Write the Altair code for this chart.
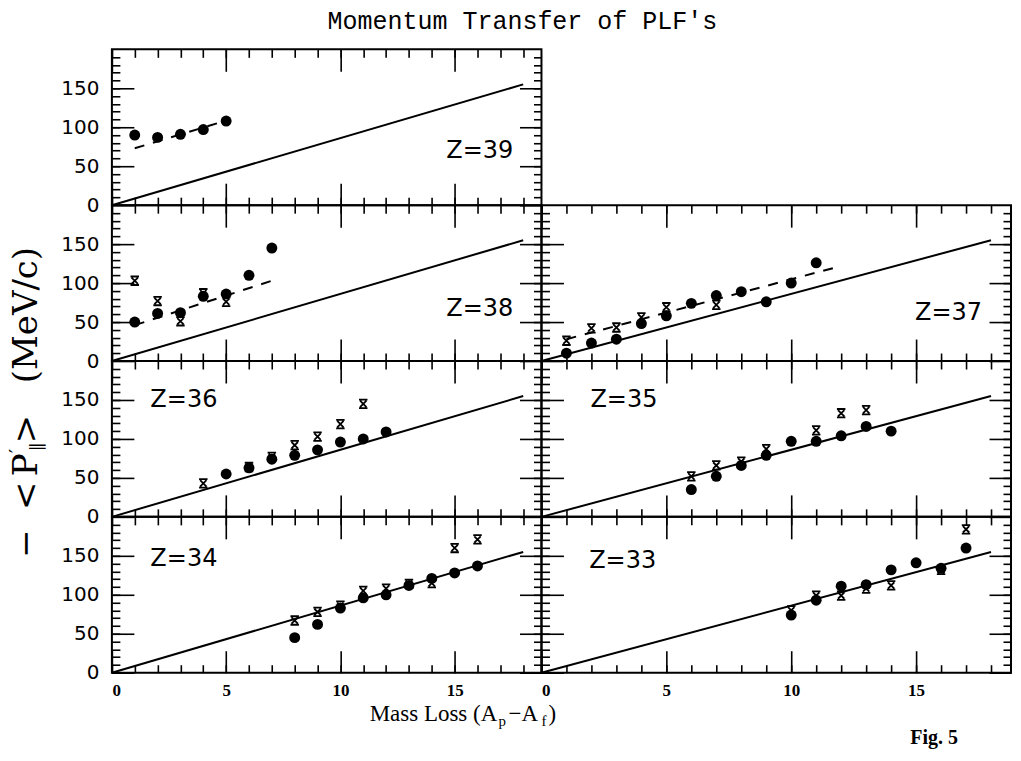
import altair as alt
import pandas as pd

# ---------------- data ----------------
line_x = [0, 18]
line_y = [0, 155]

z39_dot_x = [1, 2, 3, 4, 5]
z39_dot_y = [90, 87, 91, 97, 108]
z39_cross_x, z39_cross_y = [], []
z39_dash_x = [1, 4.6]
z39_dash_y = [73, 105]

z38_dot_x = [1, 2, 3, 4, 5, 6, 7]
z38_dot_y = [50, 61, 62, 83, 86, 110, 145]
z38_cross_x = [1, 2, 3, 4, 5]
z38_cross_y = [103, 77, 51, 87, 76]
z38_dash_x = [1, 7]
z38_dash_y = [46, 103]

z37_dot_x = [1, 2, 3, 4, 5, 6, 7, 8, 9, 10, 11]
z37_dot_y = [10, 23, 28, 48, 58, 74, 84, 89, 76, 100, 126]
z37_cross_x = [1, 2, 3, 4, 5, 7]
z37_cross_y = [26, 42, 43, 56, 69, 72]
z37_dash_x = [1, 12]
z37_dash_y = [28, 122]

z36_dot_x = [5, 6, 7, 8, 9, 10, 11, 12]
z36_dot_y = [55, 63, 74, 79, 86, 96, 100, 109]
z36_cross_x = [4, 6, 7, 8, 9, 10, 11]
z36_cross_y = [43, 64, 77, 92, 103, 119, 145]

z35_dot_x = [6, 7, 8, 9, 10, 11, 12, 13, 14]
z35_dot_y = [35, 52, 66, 79, 97, 97, 104, 116, 110]
z35_cross_x = [6, 7, 8, 9, 11, 12, 13]
z35_cross_y = [52, 66, 71, 87, 111, 133, 137]

z34_dot_x = [8, 9, 10, 11, 12, 13, 14, 15, 16]
z34_dot_y = [45, 62, 83, 96, 100, 112, 121, 128, 137]
z34_cross_x = [8, 9, 10, 11, 12, 13, 14, 15, 16]
z34_cross_y = [67, 78, 86, 105, 108, 114, 115, 160, 171]

z33_dot_x = [10, 11, 12, 13, 14, 15, 16, 17]
z33_dot_y = [74, 93, 111, 113, 132, 141, 134, 160]
z33_cross_x = [10, 11, 12, 13, 14, 16, 17]
z33_cross_y = [80, 99, 99, 108, 112, 132, 184]

panel_labels = ["Z=39", "Z=38", "Z=37", "Z=36", "Z=35", "Z=34", "Z=33"]
label_x = [16.1, 16.1, 16.3, 3.15, 3.3, 3.15, 3.25]
label_y = [70, 67, 61, 150, 150, 146, 143]

x_major = [0, 5, 10, 15]
x_minor = list(range(0, 19))
y_major = [0, 50, 100, 150]
y_minor = list(range(10, 200, 10))

title_text = "Momentum Transfer of PLF's"

# ---------------- layout constants ----------------
XDOM = [0, 18.8]
YDOM = [0, 200]
H = 156
WL, WR = 430, 470
MAJ, MIN = 22, 8

xs = alt.Scale(domain=XDOM, nice=False, zero=False)
ys = alt.Scale(domain=YDOM, nice=False, zero=False)


def ax(orient, values, size, labels=False, kind="x"):
    kw = dict(orient=orient, values=values, tickSize=size, offset=-size,
              domain=False, grid=False, title=None, labels=labels,
              ticks=True, tickColor="black", tickWidth=1.6)
    if labels:
        if kind == "x":
            kw.update(labelFont="Liberation Serif", labelFontWeight="bold",
                      labelFontSize=17, labelPadding=10, labelColor="black")
        else:
            kw.update(labelFont="DejaVu Sans", labelFontSize=20,
                      labelPadding=13, labelColor="black")
    return alt.Axis(**kw)


line_df = pd.DataFrame({"x": line_x, "y": line_y})
one = pd.DataFrame({"a": [0]})


def text_layers(pieces, font, align, angle=0, weight="normal"):
    out = []
    for (t, px, py, s) in pieces:
        kw = dict(text=t, font=font, fontSize=s, align=align,
                  baseline="middle", color="black", fontWeight=weight)
        if angle:
            kw["angle"] = angle
        out.append(alt.Chart(one).mark_text(**kw).encode(
            x=alt.value(px), y=alt.value(py)))
    return out


def panel(idx, dot_x, dot_y, cx, cy, dash_x, dash_y, width, left, bottom,
          extra=None):
    layers = []
    layers.append(
        alt.Chart(line_df).mark_line(color="black", strokeWidth=2).encode(
            x=alt.X("x:Q", scale=xs, axis=ax("bottom", x_major, MAJ, bottom, "x")),
            y=alt.Y("y:Q", scale=ys, axis=ax("left", y_major, MAJ, left, "y")),
        ))
    layers.append(
        alt.Chart(line_df).mark_line(strokeOpacity=0).encode(
            x=alt.X("x:Q", scale=xs, axis=ax("bottom", x_minor, MIN)),
            y=alt.Y("y:Q", scale=ys, axis=ax("left", y_minor, MIN)),
        ))
    layers.append(
        alt.Chart(line_df).mark_line(strokeOpacity=0).encode(
            x=alt.X("x:Q", scale=xs, axis=ax("top", x_major, MAJ)),
            y=alt.Y("y:Q", scale=ys, axis=ax("right", y_major, MAJ)),
        ))
    layers.append(
        alt.Chart(line_df).mark_line(strokeOpacity=0).encode(
            x=alt.X("x:Q", scale=xs, axis=ax("top", x_minor, MIN)),
            y=alt.Y("y:Q", scale=ys, axis=ax("right", y_minor, MIN)),
        ))
    if dash_x:
        ddf = pd.DataFrame({"x": dash_x, "y": dash_y})
        layers.append(
            alt.Chart(ddf).mark_line(color="black", strokeWidth=2,
                                     strokeDash=[10, 9]).encode(
                x=alt.X("x:Q", scale=xs, axis=None),
                y=alt.Y("y:Q", scale=ys, axis=None)))
    if cx:
        cdf = pd.DataFrame({"x": cx, "y": cy})
        layers.append(
            alt.Chart(cdf).mark_point(
                shape="M-1,-1H1M-1,1H1M-0.75,-0.75L0.75,0.75M0.75,-0.75L-0.75,0.75",
                size=72, filled=False, color="black", strokeWidth=1.8,
                opacity=1).encode(
                x=alt.X("x:Q", scale=xs, axis=None),
                y=alt.Y("y:Q", scale=ys, axis=None)))
    pdf = pd.DataFrame({"x": dot_x, "y": dot_y})
    layers.append(
        alt.Chart(pdf).mark_circle(size=120, color="black", opacity=1).encode(
            x=alt.X("x:Q", scale=xs, axis=None),
            y=alt.Y("y:Q", scale=ys, axis=None)))
    tdf = pd.DataFrame({"x": [label_x[idx]], "y": [label_y[idx]],
                        "t": [panel_labels[idx]]})
    layers.append(
        alt.Chart(tdf).mark_text(font="DejaVu Sans", fontSize=24,
                                 color="black", align="center",
                                 baseline="middle").encode(
            x=alt.X("x:Q", scale=xs, axis=None),
            y=alt.Y("y:Q", scale=ys, axis=None),
            text="t:N"))
    if extra:
        layers.extend(extra)
    return alt.layer(*layers).resolve_axis(
        x="independent", y="independent").properties(width=width, height=H)


# x-axis title pieces (pixel positions relative to the bottom-left panel)
xt_pieces = [("Mass Loss (A", 258, 197, 23), ("p", 387, 204, 15),
             ("\u2212A", 397, 197, 23), ("f", 430, 204, 15), (")", 437, 197, 23)]
xtitle_layers = text_layers(xt_pieces, "Liberation Serif", "left")

fig_layer = text_layers([("Fig. 5", 393, 221, 20)], "Liberation Serif",
                        "center", weight="bold")

# y-axis title pieces (rotated), relative to the Z=38 panel
yt_pieces = [("\u2212", -85, 339, 34), ("<", -85, 291, 34), ("P", -85, 260, 34),
             ("\u2032", -94, 246, 18), ("\u2225", -73, 242, 18), (">", -85, 224, 34),
             ("(MeV/c)", -85, 110, 34)]
ytitle_layers = text_layers(yt_pieces, "DejaVu Serif", "center", angle=270)

p39 = panel(0, z39_dot_x, z39_dot_y, z39_cross_x, z39_cross_y, z39_dash_x, z39_dash_y, WL, True, False)
p38 = panel(1, z38_dot_x, z38_dot_y, z38_cross_x, z38_cross_y, z38_dash_x, z38_dash_y, WL, True, False, ytitle_layers)
p37 = panel(2, z37_dot_x, z37_dot_y, z37_cross_x, z37_cross_y, z37_dash_x, z37_dash_y, WR, False, False)
p36 = panel(3, z36_dot_x, z36_dot_y, z36_cross_x, z36_cross_y, [], [], WL, True, False)
p35 = panel(4, z35_dot_x, z35_dot_y, z35_cross_x, z35_cross_y, [], [], WR, False, False)
p34 = panel(5, z34_dot_x, z34_dot_y, z34_cross_x, z34_cross_y, [], [], WL, True, True, xtitle_layers)
p33 = panel(6, z33_dot_x, z33_dot_y, z33_cross_x, z33_cross_y, [], [], WR, False, True, fig_layer)

empty = alt.Chart(one).mark_point(opacity=0).encode(
    x=alt.value(0), y=alt.value(0)).properties(
    width=WR, height=H, view=alt.ViewBackground(strokeOpacity=0))

chart = alt.concat(p39, empty, p38, p37, p36, p35, p34, p33,
                   columns=2, spacing=0, bounds="flush", align="each").properties(
    title=alt.TitleParams(title_text, font="Liberation Mono", fontSize=25,
                          fontWeight="normal", anchor="middle", offset=13,
                          dx=12, color="black"),
    padding=0,
).configure_view(stroke="black", strokeWidth=2)

chart.save("out.html", embed_options={"renderer": "svg", "actions": False})
